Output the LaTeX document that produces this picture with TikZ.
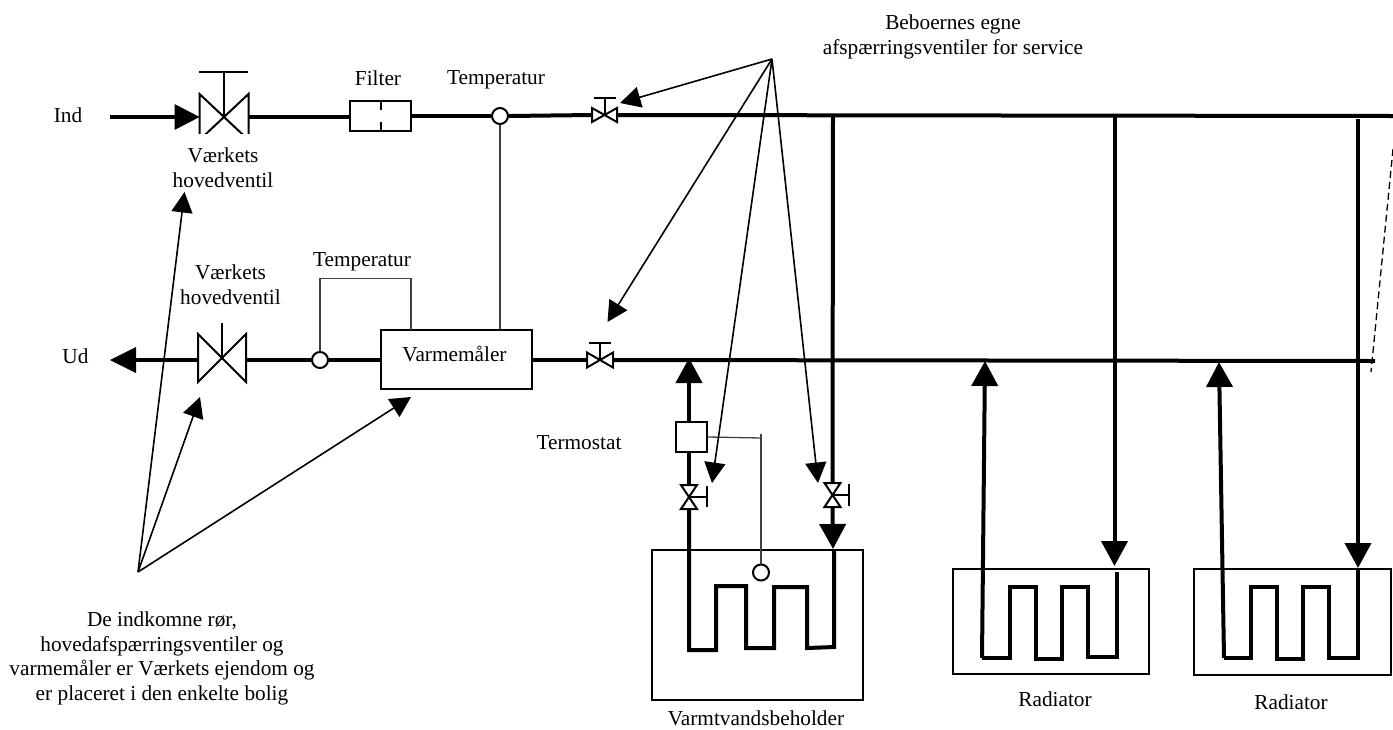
\documentclass[tikz,border=0pt]{standalone}
\usepackage{fontspec}
\setmainfont{Liberation Serif}
\usetikzlibrary{arrows.meta}
\tikzset{
  pipe/.style={line width=4pt},
  pipearrow/.style={line width=4pt,-{Triangle[length=25pt,width=26pt]}},
  call/.style={line width=1.6pt,-{Triangle[length=20.5pt,width=21pt]}},
  thin wire/.style={line width=1.3pt,black!75},
  sym/.style={line width=2pt},
  valvebox/.style={inner sep=0pt,outer sep=0pt,draw=none,minimum width=#1},
  sensor/.style={circle,draw,line width=2pt,fill=white,inner sep=0pt,minimum size=16pt},
  box/.style={rectangle,draw,line width=2pt,inner sep=0pt},
  lab/.style={align=center,inner sep=0pt,font=\fontsize{21.3}{24.7}\selectfont}
}
\begin{document}
\begin{tikzpicture}[x=1pt,y=-1pt]
\useasboundingbox (0,0) rectangle (1393,729);
% ---- named places
\coordinate (indstart) at (110,117);
\coordinate (udend) at (110,360);
\coordinate (topend) at (1393,116);
\coordinate (botend) at (1375,361);
\coordinate (hubA) at (772,59);
\coordinate (hubB) at (138,572);
\coordinate (tipA1) at (620,103);
\coordinate (tipA2) at (607.5,322);
\coordinate (tipA3) at (712,483);
\coordinate (tipA4) at (818,483);
\coordinate (tipB1) at (184.5,192);
\coordinate (tipB2) at (200,397);
\coordinate (tipB3) at (411,397);
\coordinate (dashA) at (1393,149);
\coordinate (dashB) at (1371,372);
% ---- valves
\node[valvebox=49pt,minimum height=46pt] (v1) at (224,117) {};
\node[valvebox=48pt,minimum height=48pt] (v2) at (222,358) {};
\node[valvebox=25pt,minimum height=14pt] (v3) at (604.5,115) {};
\node[valvebox=26pt,minimum height=15pt] (v4) at (600,360) {};
\node[valvebox=16pt,minimum height=24pt] (v5) at (689,497) {};
\node[valvebox=16pt,minimum height=24pt] (v6) at (832.5,495) {};
% ---- boxes
\node[box,minimum width=61pt,minimum height=30pt] (filter) at (380.5,116) {};
\node[box,minimum width=151pt,minimum height=59pt] (meter) at (456,359.5) {};
\node[box,minimum width=31pt,minimum height=30pt] (thermo) at (691.5,437) {};
\node[box,minimum width=211pt,minimum height=150pt] (tank) at (757.5,625) {};
\node[box,minimum width=196pt,minimum height=105pt] (rad1) at (1051,621.5) {};
\node[box,minimum width=197pt,minimum height=106pt] (rad2) at (1292.5,622) {};
\node[sensor] (s1) at (500,116) {};
\node[sensor] (s2) at (320,360) {};
\node[sensor] (s3) at (761,572.5) {};
% ---- junctions / pipe corners
\coordinate (j1) at (833,116);
\coordinate (j2) at (1114.5,116);
\coordinate (j3) at (1358,119);
\coordinate (a0) at (689,358);
\coordinate (a1) at (985,361);
\coordinate (a2) at (1219,362);
\coordinate (b0) at (833,549);
\coordinate (b1) at (1114.5,566);
\coordinate (b2) at (1358,568);
% ---- thin wires
\draw[thin wire] (s1.south) -- (s1.south |- meter.north);
\draw[thin wire] (s2.north) -- (320,278.5) -- (411,278.5) -- (411,330);
\draw[thin wire] (thermo.east) -- (761,438);
\draw[thin wire] (761,434) -- (s3.north);
\draw[line width=1.3pt,dash pattern=on 7pt off 4pt] (dashA) -- (dashB);
% ---- pipes
\draw[pipe] (indstart) -- (176,117);
\fill (v1.west) -- ++(-25,-13) -- ++(0,26) -- cycle;
\draw[pipe] (v1.east) -- (filter.west |- v1.east);
\draw[pipe] (filter.east) -- (s1.west);
\draw[pipe] (s1.east) -- (v3.west);
\draw[pipe] (v3.east) -- (topend);
\draw[pipe] (v2.west |- udend) -- (136,360);
\fill (udend) -- ++(26,-13) -- ++(0,26) -- cycle;
\draw[pipe] (v2.east |- s2.west) -- (s2.west);
\draw[pipe] (s2.east) -- (meter.west |- s2.east);
\draw[pipe] (meter.east |- s2.east) -- (v4.west);
\draw[pipe] (v4.east) -- (botend);
% main drops
\draw[pipe] (j1) -- (v6.north);
\draw[pipearrow] (v6.south) -- (b0);
\draw[pipearrow] (j2) -- (b1);
\draw[pipearrow] (j3) -- (b2);
\draw[pipearrow] (a0 |- thermo.north) -- (a0);
\draw[pipe] (v5.north |- thermo.south) -- (v5.north);
% coils
\draw[pipe,line join=miter] (v5.south) -- (689,650) -- (716,650) -- (716,586) -- (746,586) -- (746,648) -- (774,648) -- (774,587) -- (807,587) -- (807,648) -- (834,647) -- (834,551);
\draw[pipearrow] (982,658) -- (a1);
\draw[pipe] (982,658) -- (1010,658) -- (1010,587) -- (1036,587) -- (1036,659) -- (1062,659) -- (1062,587) -- (1088,587) -- (1088,657) -- (1117,657) -- (1117,572);
\draw[pipearrow] (1224,658) -- (a2);
\draw[pipe] (1224,658) -- (1251,658) -- (1251,587) -- (1277,587) -- (1277,659) -- (1303,659) -- (1303,587) -- (1329,587) -- (1329,658) -- (1358,658) -- (1358,569);
% ---- valve symbols
\begin{scope}
\clip (190,60) rectangle (260,133);
\draw[sym,fill=white] (v1.north west)--(v1.south east)--(v1.north east)--(v1.south west)--cycle;
\end{scope}
\draw[sym] (v1.center) -- (224,72);
\draw[sym] (199,72) -- (248,72);
\draw[sym,fill=white] (v2.north west)--(v2.south east)--(v2.north east)--(v2.south west)--cycle;
\draw[sym] (v2.center) -- ++(0,-35);
\draw[sym,fill=white] (v3.north west)--(v3.south east)--(v3.north east)--(v3.south west)--cycle;
\draw[sym] (v3.center) -- ++(0,-17);
\draw[sym] (594,98) -- (616,98);
\draw[sym,fill=white] (v4.north west)--(v4.south east)--(v4.north east)--(v4.south west)--cycle;
\draw[sym] (v4.center) -- ++(0,-17);
\draw[sym] (589,343) -- (611,343);
\draw[sym,fill=white] (v5.north west)--(v5.south east)--(v5.south west)--(v5.north east)--cycle;
\draw[sym] (v5.center) -- ++(18,0);
\draw[sym] (707,486) -- (707,507);
\draw[sym,fill=white] (v6.north west)--(v6.south east)--(v6.south west)--(v6.north east)--cycle;
\draw[sym] (v6.center) -- ++(16,0);
\draw[sym] (849,484) -- (849,506);
% ---- filter mid
\draw[sym] (filter.north) -- ++(0,10);
\draw[sym] (filter.south) -- ++(0,-10);
% ---- call-outs
\draw[call] (hubA) -- (tipA1);
\draw[call] (hubA) -- (tipA2);
\draw[call] (hubA) -- (tipA3);
\draw[call] (hubA) -- (tipA4);
\draw[call] (hubB) -- (tipB1);
\draw[call] (hubB) -- (tipB2);
\draw[call] (hubB) -- (tipB3);
% ---- labels
\node[lab] (lind) at (68,115) {Ind};
\node[lab] (lud) at (75.5,356) {Ud};
\node[lab] (lfilter) at (378,78) {Filter};
\node[lab] (ltemp1) at (496,80) {Temperatur};
\node[lab] (lv1) at (223,167.5) {Værkets\\hovedventil};
\node[lab] (lv2) at (230.5,284.5) {Værkets\\hovedventil};
\node[lab] (ltemp2) at (362,262) {Temperatur};
\node[lab] (lmeter) at (454.5,354) {Varmemåler};
\node[lab] (lthermo) at (579,443) {Termostat};
\node[lab] (lservice) at (953,37) {Beboernes egne\\afspærringsventiler for service};
\node[lab] (lnote) at (162,658.5) {De indkomne rør,\\hovedafspærringsventiler og\\varmemåler er Værkets ejendom og\\er placeret i den enkelte bolig};
\node[lab] (ltank) at (756,718.5) {Varmtvandsbeholder};
\node[lab] (lrad1) at (1055,699) {Radiator};
\node[lab] (lrad2) at (1291,702) {Radiator};
\end{tikzpicture}
\end{document}
